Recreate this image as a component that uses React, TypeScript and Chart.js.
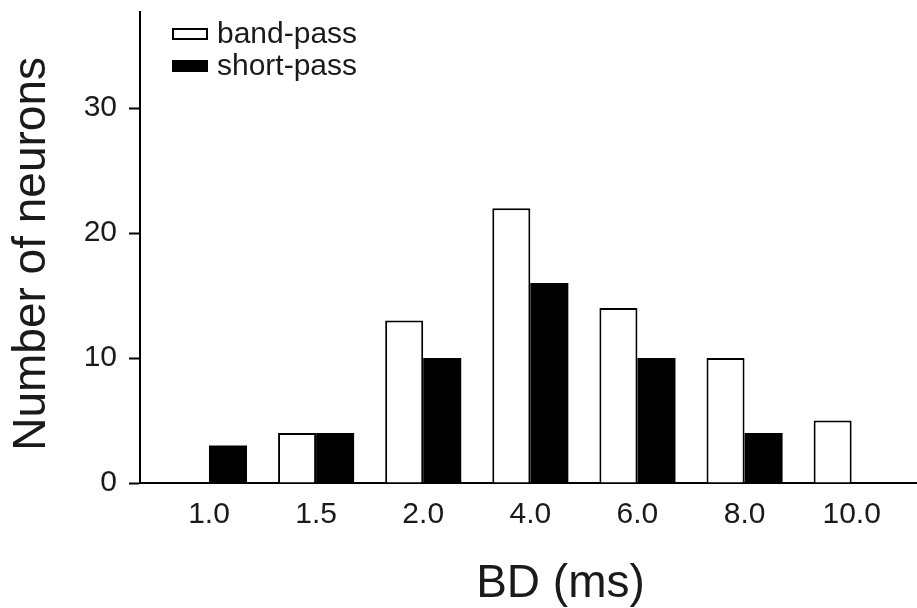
import React, { useEffect, useRef } from 'react';
import { Chart, registerables } from 'chart.js';

Chart.register(...registerables);

// ---- data ----
const categories = ['1.0', '1.5', '2.0', '4.0', '6.0', '8.0', '10.0'];
const bandPass = [0, 4, 13, 22, 14, 10, 5];
const shortPass = [3, 4, 10, 16, 10, 4, 0];
const yTickValues = [0, 10, 20, 30];
const seriesNames = ['band-pass', 'short-pass'];
const xTitle = 'BD (ms)';
const yTitle = 'Number of neurons';

const FONT = '"Liberation Sans", Arial, Helvetica, sans-serif';
const INK = '#1a1a1a';

const insideLegend = {
  id: 'insideLegend',
  afterDraw(chart: any) {
    const ctx = chart.ctx;
    const left = 172;
    const top = 28;
    const gap = 32;
    const boxW = 36;
    const boxH = 12;
    ctx.save();
    chart.data.datasets.forEach((ds: any, i: number) => {
      const y = top + i * gap;
      ctx.fillStyle = ds.backgroundColor;
      ctx.fillRect(left, y, boxW, boxH);
      if (ds.borderWidth) {
        ctx.lineWidth = 2;
        ctx.strokeStyle = ds.borderColor;
        ctx.strokeRect(left + 1, y + 1, boxW - 2, boxH - 2);
      }
      ctx.fillStyle = INK;
      ctx.font = `30px ${FONT}`;
      ctx.textAlign = 'left';
      ctx.textBaseline = 'alphabetic';
      ctx.fillText(ds.label, left + 45, y + 15);
    });
    ctx.restore();
  },
};

export default function App() {
  const ref = useRef<HTMLCanvasElement>(null);

  useEffect(() => {
    if (!ref.current) return;
    const chart = new Chart(ref.current, {
      type: 'bar',
      data: {
        datasets: [
          {
            label: seriesNames[0],
            data: categories.map((_, i) => ({ x: i, y: bandPass[i] })),
            backgroundColor: '#ffffff',
            borderColor: '#000000',
            borderWidth: 2,
          },
          {
            label: seriesNames[1],
            data: categories.map((_, i) => ({ x: i, y: shortPass[i] })),
            backgroundColor: '#000000',
            borderColor: '#000000',
            borderWidth: 0,
          },
        ],
      } as any,
      options: {
        animation: false,
        responsive: false,
        maintainAspectRatio: false,
        layout: { padding: { top: 12, right: 0, left: 0, bottom: 0 } },
        datasets: { bar: { categoryPercentage: 0.71, barPercentage: 1 } },
        plugins: {
          legend: { display: false },
          tooltip: { enabled: false },
        },
        scales: {
          x: {
            type: 'linear',
            min: -0.644,
            max: 6.61,
            offset: false,
            grid: { display: false, drawTicks: false },
            border: { display: true, color: '#000', width: 2 },
            afterBuildTicks: (s: any) => {
              s.ticks = categories.map((_, i) => ({ value: i }));
            },
            afterFit: (s: any) => {
              s.height = 125;
              s.paddingLeft = 0;
              s.paddingRight = 0;
            },
            ticks: {
              callback: (v: any) => categories[v] ?? '',
              font: { family: FONT, size: 30 },
              color: INK,
              padding: 14,
              autoSkip: false,
              maxRotation: 0,
              minRotation: 0,
            },
            title: {
              display: true,
              text: '     ' + xTitle,
              font: { family: FONT, size: 46, lineHeight: 1 },
              color: INK,
              padding: { top: 0, bottom: 1 },
            },
          },
          y: {
            type: 'linear',
            min: 0,
            max: 37.7,
            afterBuildTicks: (s: any) => {
              s.ticks = yTickValues.map((v) => ({ value: v }));
            },
            afterFit: (s: any) => {
              s.width = 140;
              s.paddingTop = 0;
              s.paddingBottom = 0;
            },
            grid: {
              drawOnChartArea: false,
              drawTicks: true,
              tickLength: 11,
              tickColor: '#000',
              tickWidth: 2,
            },
            border: { display: true, color: '#000', width: 2 },
            ticks: {
              font: { family: FONT, size: 30 },
              color: INK,
              padding: 12,
            },
            title: {
              display: true,
              text: yTitle + ' ',
              font: { family: FONT, size: 46 },
              color: INK,
              padding: { top: 5, bottom: 0 },
            },
          },
        },
      } as any,
      plugins: [insideLegend],
    });
    return () => chart.destroy();
  }, []);

  return (
    <div style={{ position: 'fixed', left: 0, top: 0, width: 917, height: 608, background: '#fff' }}>
      <canvas ref={ref} width={917} height={608} style={{ width: 917, height: 608, display: 'block' }} />
    </div>
  );
}
